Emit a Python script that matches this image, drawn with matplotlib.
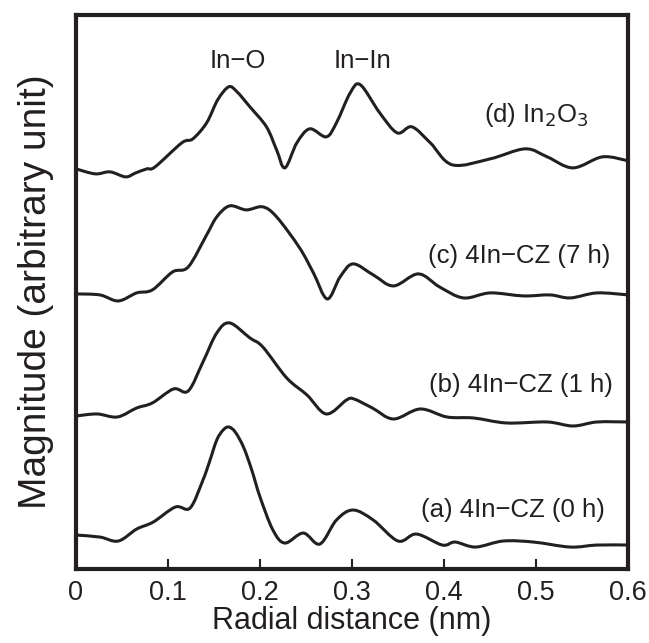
import numpy as np
import matplotlib
matplotlib.use("Agg")
import matplotlib.pyplot as plt
from matplotlib.path import Path
from matplotlib.patches import PathPatch

plt.rcParams['font.family'] = ['Liberation Sans', 'DejaVu Sans']

# radial distance (nm) and magnitude (arbitrary, relative to curve start)
x_a = [0, .026, .046, .066, .084, .108, .124, .138, .145, .153, .160, .166, .173, .182, .191, .200, .214, .227,
       .247, .265, .283, .301, .323, .350, .370, .398, .412, .434, .464, .497, .537, .566, .600]
m_a = [0, -2, -6, 6, 13, 28, 27, 55, 73, 95, 105, 108, 103, 88, 65, 38, 5, -8,
       2, -9, 15, 25, 15, -6, 1, -10, -7, -12, -6, -7, -12, -10, -10]

x_b = [0, .023, .045, .066, .083, .106, .122, .138, .153, .167, .189, .203, .229, .251, .272, .294, .302,
       .322, .345, .374, .403, .432, .468, .512, .540, .566, .600]
m_b = [0, 2, -1, 8, 13, 27, 25, 54, 83, 93, 78, 69, 38, 21, 2, 16, 17,
       8, -3, 7, -1, -2, -7, -6, -10, -6, -6]

x_c = [0, .026, .046, .066, .083, .105, .122, .142, .153, .167, .185, .203, .218, .243, .258, .273, .287,
       .301, .323, .345, .372, .395, .421, .450, .486, .515, .537, .566, .600]
m_c = [0, -1, -7, 1, 4, 22, 27, 59, 77, 88, 84, 87, 77, 46, 21, -5, 17,
       30, 19, 8, 20, 7, -4, 1, -2, -1, -4, 1, -1]

x_d = [0, .021, .037, .054, .065, .077, .086, .115, .127, .142, .154, .166, .175, .189, .207, .218, .227,
       .240, .254, .272, .283, .298, .309, .330, .349, .365, .385, .409, .450, .488, .512, .540, .572, .600]
m_d = [0, -5, -3, -8, -4, 0, 2, 26, 30, 46, 69, 82, 77, 62, 42, 19, 1,
       26, 40, 32, 46, 76, 84, 56, 36, 42, 26, 4, 10, 20, 12, 1, 12, 8]

labels = ["(a) 4In\u2212CZ (0 h)", "(b) 4In\u2212CZ (1 h)", "(c) 4In\u2212CZ (7 h)", "(d) In$_2$O$_3$"]
offsets = [34, 153, 275, 400]
label_pos = [(0.475, 59), (0.483, 184), (0.481, 313), (0.500, 454)]

ink = "#231f20"


def smooth_path(xs, ys):
    # Catmull-Rom through the read points, drawn as cubic Bezier segments
    p = np.column_stack([xs, ys]).astype(float)
    ext = np.vstack([p[0], p, p[-1]])
    verts = [p[0]]
    codes = [Path.MOVETO]
    for i in range(1, len(ext) - 2):
        p0, p1, p2, p3 = ext[i - 1], ext[i], ext[i + 1], ext[i + 2]
        verts += [p1 + (p2 - p0) / 6, p2 - (p3 - p1) / 6, p2]
        codes += [Path.CURVE4] * 3
    return Path(verts, codes)


fig = plt.figure(figsize=(6.49, 6.43), dpi=100)
ax = fig.add_axes([0.117, 0.115, 0.851, 0.862])

for xs, ms, off, lab, pos in zip([x_a, x_b, x_c, x_d], [m_a, m_b, m_c, m_d], offsets, labels, label_pos):
    ax.add_patch(PathPatch(smooth_path(xs, np.array(ms) + off), fill=False, edgecolor=ink, lw=2.2,
                           joinstyle="round", capstyle="round"))
    ax.text(pos[0], pos[1], lab, ha="center", va="center", fontsize=18.5, color=ink)

ax.text(0.176, 508, "In\u2212O", ha="center", va="center", fontsize=18.5, color=ink)
ax.text(0.311, 508, "In\u2212In", ha="center", va="center", fontsize=18.5, color=ink)

ax.set_xlim(0, 0.6)
ax.set_ylim(0, 554)
ax.set_xticks([0, 0.1, 0.2, 0.3, 0.4, 0.5, 0.6])
ax.set_xticklabels(["0", "0.1", "0.2", "0.3", "0.4", "0.5", "0.6"])
ax.set_yticks([])
ax.tick_params(axis="x", direction="in", length=7, width=1.5, color=ink, labelsize=19.5, pad=8, labelcolor=ink)
for s in ax.spines.values():
    s.set_linewidth(3)
    s.set_color(ink)

ax.set_xlabel("Radial distance (nm)", fontsize=22, color=ink, labelpad=0)
ax.set_ylabel("Magnitude (arbitrary unit)", fontsize=28, color=ink, labelpad=16)

fig.savefig("out.png", dpi=100)
